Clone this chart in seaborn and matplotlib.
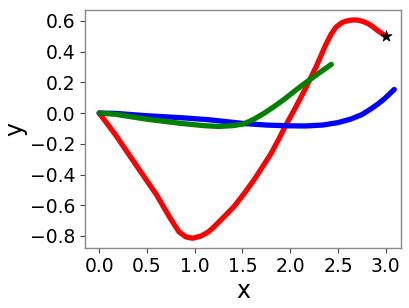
import matplotlib
matplotlib.use("Agg")
import matplotlib.pyplot as plt
import seaborn as sns
import pandas as pd

sns.set_style("ticks")
plt.rcParams['font.family'] = ['DejaVu Sans']
plt.rcParams['text.color'] = 'black'
plt.rcParams['axes.labelcolor'] = 'black'
plt.rcParams['xtick.labelcolor'] = 'black'
plt.rcParams['ytick.labelcolor'] = 'black'

red_x = [0.0, 0.172, 0.387, 0.602, 0.745, 0.835, 0.907, 0.978, 1.068, 1.14, 1.19, 1.30,
         1.41, 1.516, 1.62, 1.71, 1.80, 1.88, 1.946, 2.05, 2.16, 2.27, 2.376, 2.43, 2.48,
         2.54, 2.59, 2.65, 2.70, 2.76, 2.81, 2.86, 2.91, 2.96, 3.0]
red_y = [0.0, -0.143, -0.339, -0.534, -0.686, -0.773, -0.806, -0.815, -0.80, -0.775, -0.748, -0.68,
         -0.61, -0.525, -0.436, -0.35, -0.263, -0.17, -0.089, 0.03, 0.16, 0.30, 0.45, 0.515, 0.56,
         0.588, 0.600, 0.606, 0.606, 0.597, 0.584, 0.565, 0.54, 0.518, 0.50]

blue_x = [0.0, 0.172, 0.49, 0.853, 1.14, 1.516, 1.75, 1.98, 2.16, 2.34, 2.5, 2.63, 2.75, 2.84, 2.92, 2.99, 3.09]
blue_y = [0.0, -0.002, -0.017, -0.03, -0.043, -0.068, -0.078, -0.083, -0.084, -0.078, -0.062, -0.04, -0.01, 0.025, 0.06, 0.095, 0.154]

green_x = [0.0, 0.172, 0.49, 0.853, 1.1, 1.25, 1.40, 1.516, 1.62, 1.73, 1.84, 1.946, 2.05, 2.16, 2.30, 2.43]
green_y = [0.0, -0.008, -0.039, -0.067, -0.082, -0.087, -0.082, -0.07, -0.04, 0.0, 0.046, 0.094, 0.145, 0.197, 0.26, 0.317]

star_x = [3.0]
star_y = [0.5]

fig = plt.figure(figsize=(4.1, 3.08), dpi=100)
ax = fig.add_axes([0.207, 0.195, 0.771, 0.773])

for xs, ys, c in [(red_x, red_y, 'red'), (blue_x, blue_y, 'blue'), (green_x, green_y, 'green')]:
    df = pd.DataFrame({'x': xs, 'y': ys})
    sns.lineplot(data=df, x='x', y='y', sort=False, color=c, linewidth=3.8, ax=ax,
                 solid_capstyle='round', solid_joinstyle='round')

sns.scatterplot(x=star_x, y=star_y, marker='*', s=70, color='black', edgecolor='black',
                linewidth=0.5, ax=ax, zorder=5)

ax.set_xticks([0.0, 0.5, 1.0, 1.5, 2.0, 2.5, 3.0])
ax.set_yticks([-0.8, -0.6, -0.4, -0.2, 0.0, 0.2, 0.4, 0.6])
ax.set_xlim(-0.15, 3.16)
ax.set_ylim(-0.878, 0.672)
ax.tick_params(labelsize=13.5, length=3.5, width=0.8, color='#444444', pad=3)
ax.set_xlabel('x', fontsize=17, labelpad=2)
ax.set_ylabel('y', fontsize=17, labelpad=2)
for s in ax.spines.values():
    s.set_color('#888888')
    s.set_linewidth(1.0)

fig.savefig('out.png', dpi=100)
